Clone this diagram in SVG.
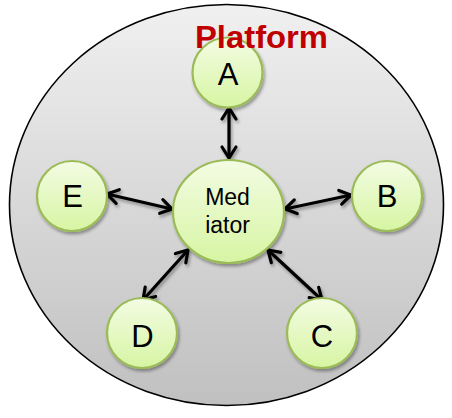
<svg xmlns="http://www.w3.org/2000/svg" width="452" height="418" viewBox="0 0 452 418">
<defs>
<linearGradient id="gPlat" x1="0" y1="0" x2="0" y2="1">
<stop offset="0" stop-color="#f0f0f0"/>
<stop offset="1" stop-color="#c0c0c0"/>
</linearGradient>
<linearGradient id="gNode" x1="0" y1="0" x2="0" y2="1">
<stop offset="0" stop-color="#f3fce3"/>
<stop offset="1" stop-color="#d7f5a3"/>
</linearGradient>
<filter id="sh" x="-20%" y="-20%" width="140%" height="140%">
<feDropShadow dx="1.5" dy="2.5" stdDeviation="1.8" flood-color="#000" flood-opacity="0.35"/>
</filter>
<marker id="ah" markerUnits="userSpaceOnUse" viewBox="-14 -10 18 20" markerWidth="18" markerHeight="20" refX="0" refY="0" orient="auto-start-reverse">
<path d="M-11,-7 L0,0 L-11,7" fill="none" stroke="#000" stroke-width="3.2" stroke-linecap="round" stroke-linejoin="miter"/>
</marker>
<style>
.node{fill:url(#gNode);stroke:#9bbb59;stroke-width:2.2;filter:url(#sh)}
.lbl{font-family:"Liberation Sans",Arial,sans-serif;font-size:31px;fill:#000;text-anchor:middle}
.conn line{stroke:#000;stroke-width:3.2;marker-start:url(#ah);marker-end:url(#ah)}
</style>
</defs>
<g id="platform">
<ellipse cx="226.5" cy="205" rx="217" ry="200.5" fill="url(#gPlat)" stroke="#000" stroke-width="1.6"/>
</g>
<g class="conn" id="connectors" filter="url(#sh)">
<line x1="229" y1="108" x2="229" y2="158"/>
<line x1="107" y1="194" x2="172" y2="209"/>
<line x1="351" y1="195" x2="285" y2="209"/>
<line x1="322" y1="300" x2="268" y2="250"/>
<line x1="143" y1="300" x2="188" y2="250"/>
</g>
<g id="node-A">
<circle class="node" cx="227.5" cy="72.5" r="35"/>
<text class="lbl" x="228" y="85">A</text>
</g>
<g id="node-E">
<circle class="node" cx="72" cy="196" r="35"/>
<text class="lbl" x="72.5" y="207">E</text>
</g>
<g id="node-B">
<circle class="node" cx="387" cy="196" r="35"/>
<text class="lbl" x="387" y="207">B</text>
</g>
<g id="node-D">
<circle class="node" cx="142" cy="333" r="35"/>
<text class="lbl" x="142.5" y="347">D</text>
</g>
<g id="node-C">
<circle class="node" cx="322" cy="333" r="35"/>
<text class="lbl" x="322" y="347">C</text>
</g>
<g id="node-Mediator">
<ellipse class="node" cx="228.5" cy="211.5" rx="55.5" ry="51.5"/>
<text class="lbl" x="227.5" y="205" style="font-size:23px">Med</text>
<text class="lbl" x="227.5" y="233" style="font-size:23px">iator</text>
</g>
<g id="platform-label">
<text x="261.5" y="48" font-family="Liberation Sans,Arial,sans-serif" font-weight="bold" font-size="31" fill="#c00000" text-anchor="middle" textLength="133" lengthAdjust="spacingAndGlyphs">Platform</text>
</g>
</svg>
